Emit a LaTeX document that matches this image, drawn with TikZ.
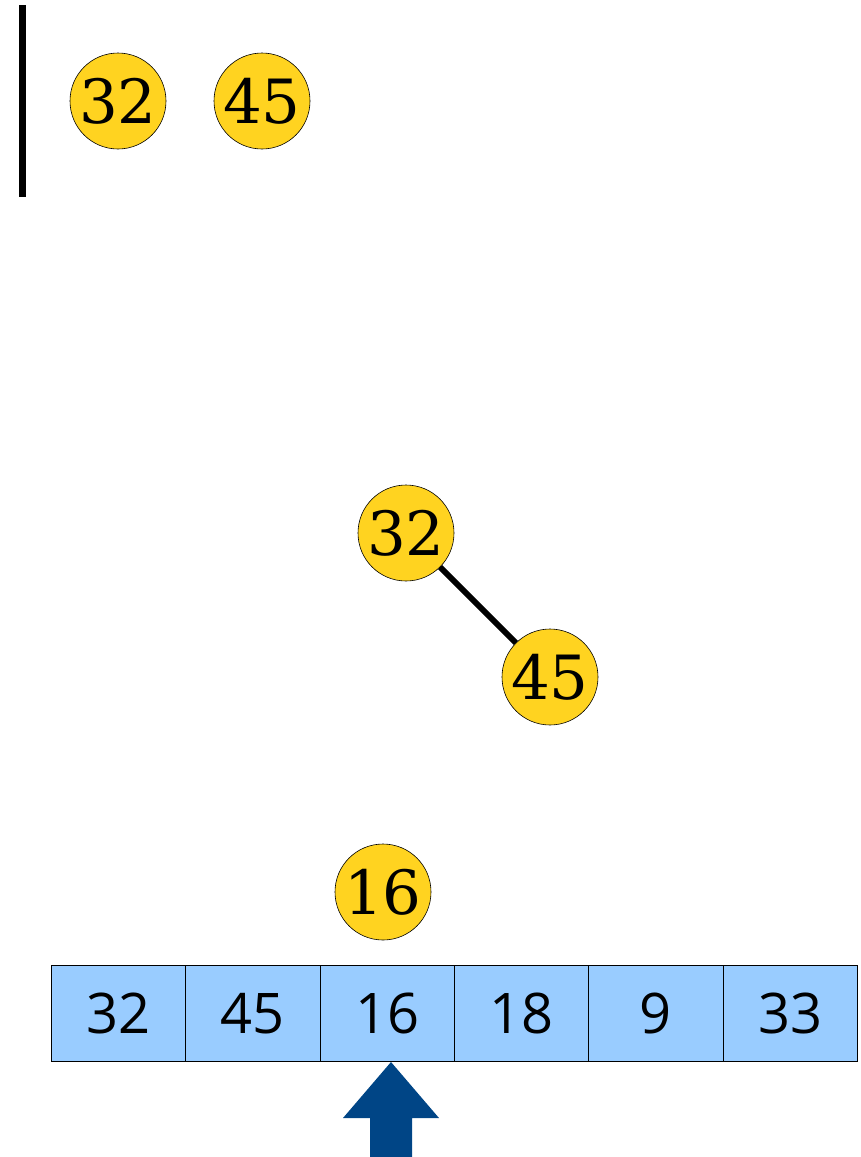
\documentclass[tikz,border=0pt]{standalone}
\usepackage{fontspec}
\setmainfont{DejaVu Serif}
\newfontfamily\arrfont{Open Sans}
\definecolor{ballyellow}{HTML}{FFD320}
\definecolor{cellblue}{HTML}{99CCFF}
\definecolor{arrowblue}{HTML}{004586}
\begin{document}
\begin{tikzpicture}[x=1pt,y=-1pt,
  ball/.style={circle,draw=black,line width=0.6pt,fill=ballyellow,minimum size=96pt,inner sep=0pt,
    font=\fontsize{61}{61}\selectfont},
  cell/.style={rectangle,draw=black,line width=0.8pt,fill=cellblue,minimum width=134.33pt,minimum height=96pt,
    inner sep=0pt,anchor=north west,font=\arrfont\fontsize{56}{56}\selectfont},
  edge/.style={line width=6pt}]
\useasboundingbox (0,0) rectangle (860,1157);
% vertical bar
\fill[black] (19,5) rectangle (26,197);
% top loose balls
\node[ball] (a32) at (118,101) {32};
\node[ball] (a45) at (262,101) {45};
% tree
\node[ball] (t32) at (406,533) {32};
\node[ball] (t45) at (550,677) {45};
\draw[edge] (t32) -- (t45);
% current element
\node[ball] (c16) at (383,892) {16};
% array
\node[cell] (r0) at (51,965) {32};
\node[cell] (r1) at (185.33,965) {45};
\node[cell] (r2) at (319.67,965) {16};
\node[cell] (r3) at (454,965) {18};
\node[cell] (r4) at (588.33,965) {9};
\node[cell] (r5) at (722.67,965) {33};
% pointer arrow
\fill[arrowblue] (391,1062) -- (439,1118) -- (412,1118) -- (412,1157) -- (370,1157) -- (370,1118) -- (343,1118) -- cycle;
\end{tikzpicture}
\end{document}
